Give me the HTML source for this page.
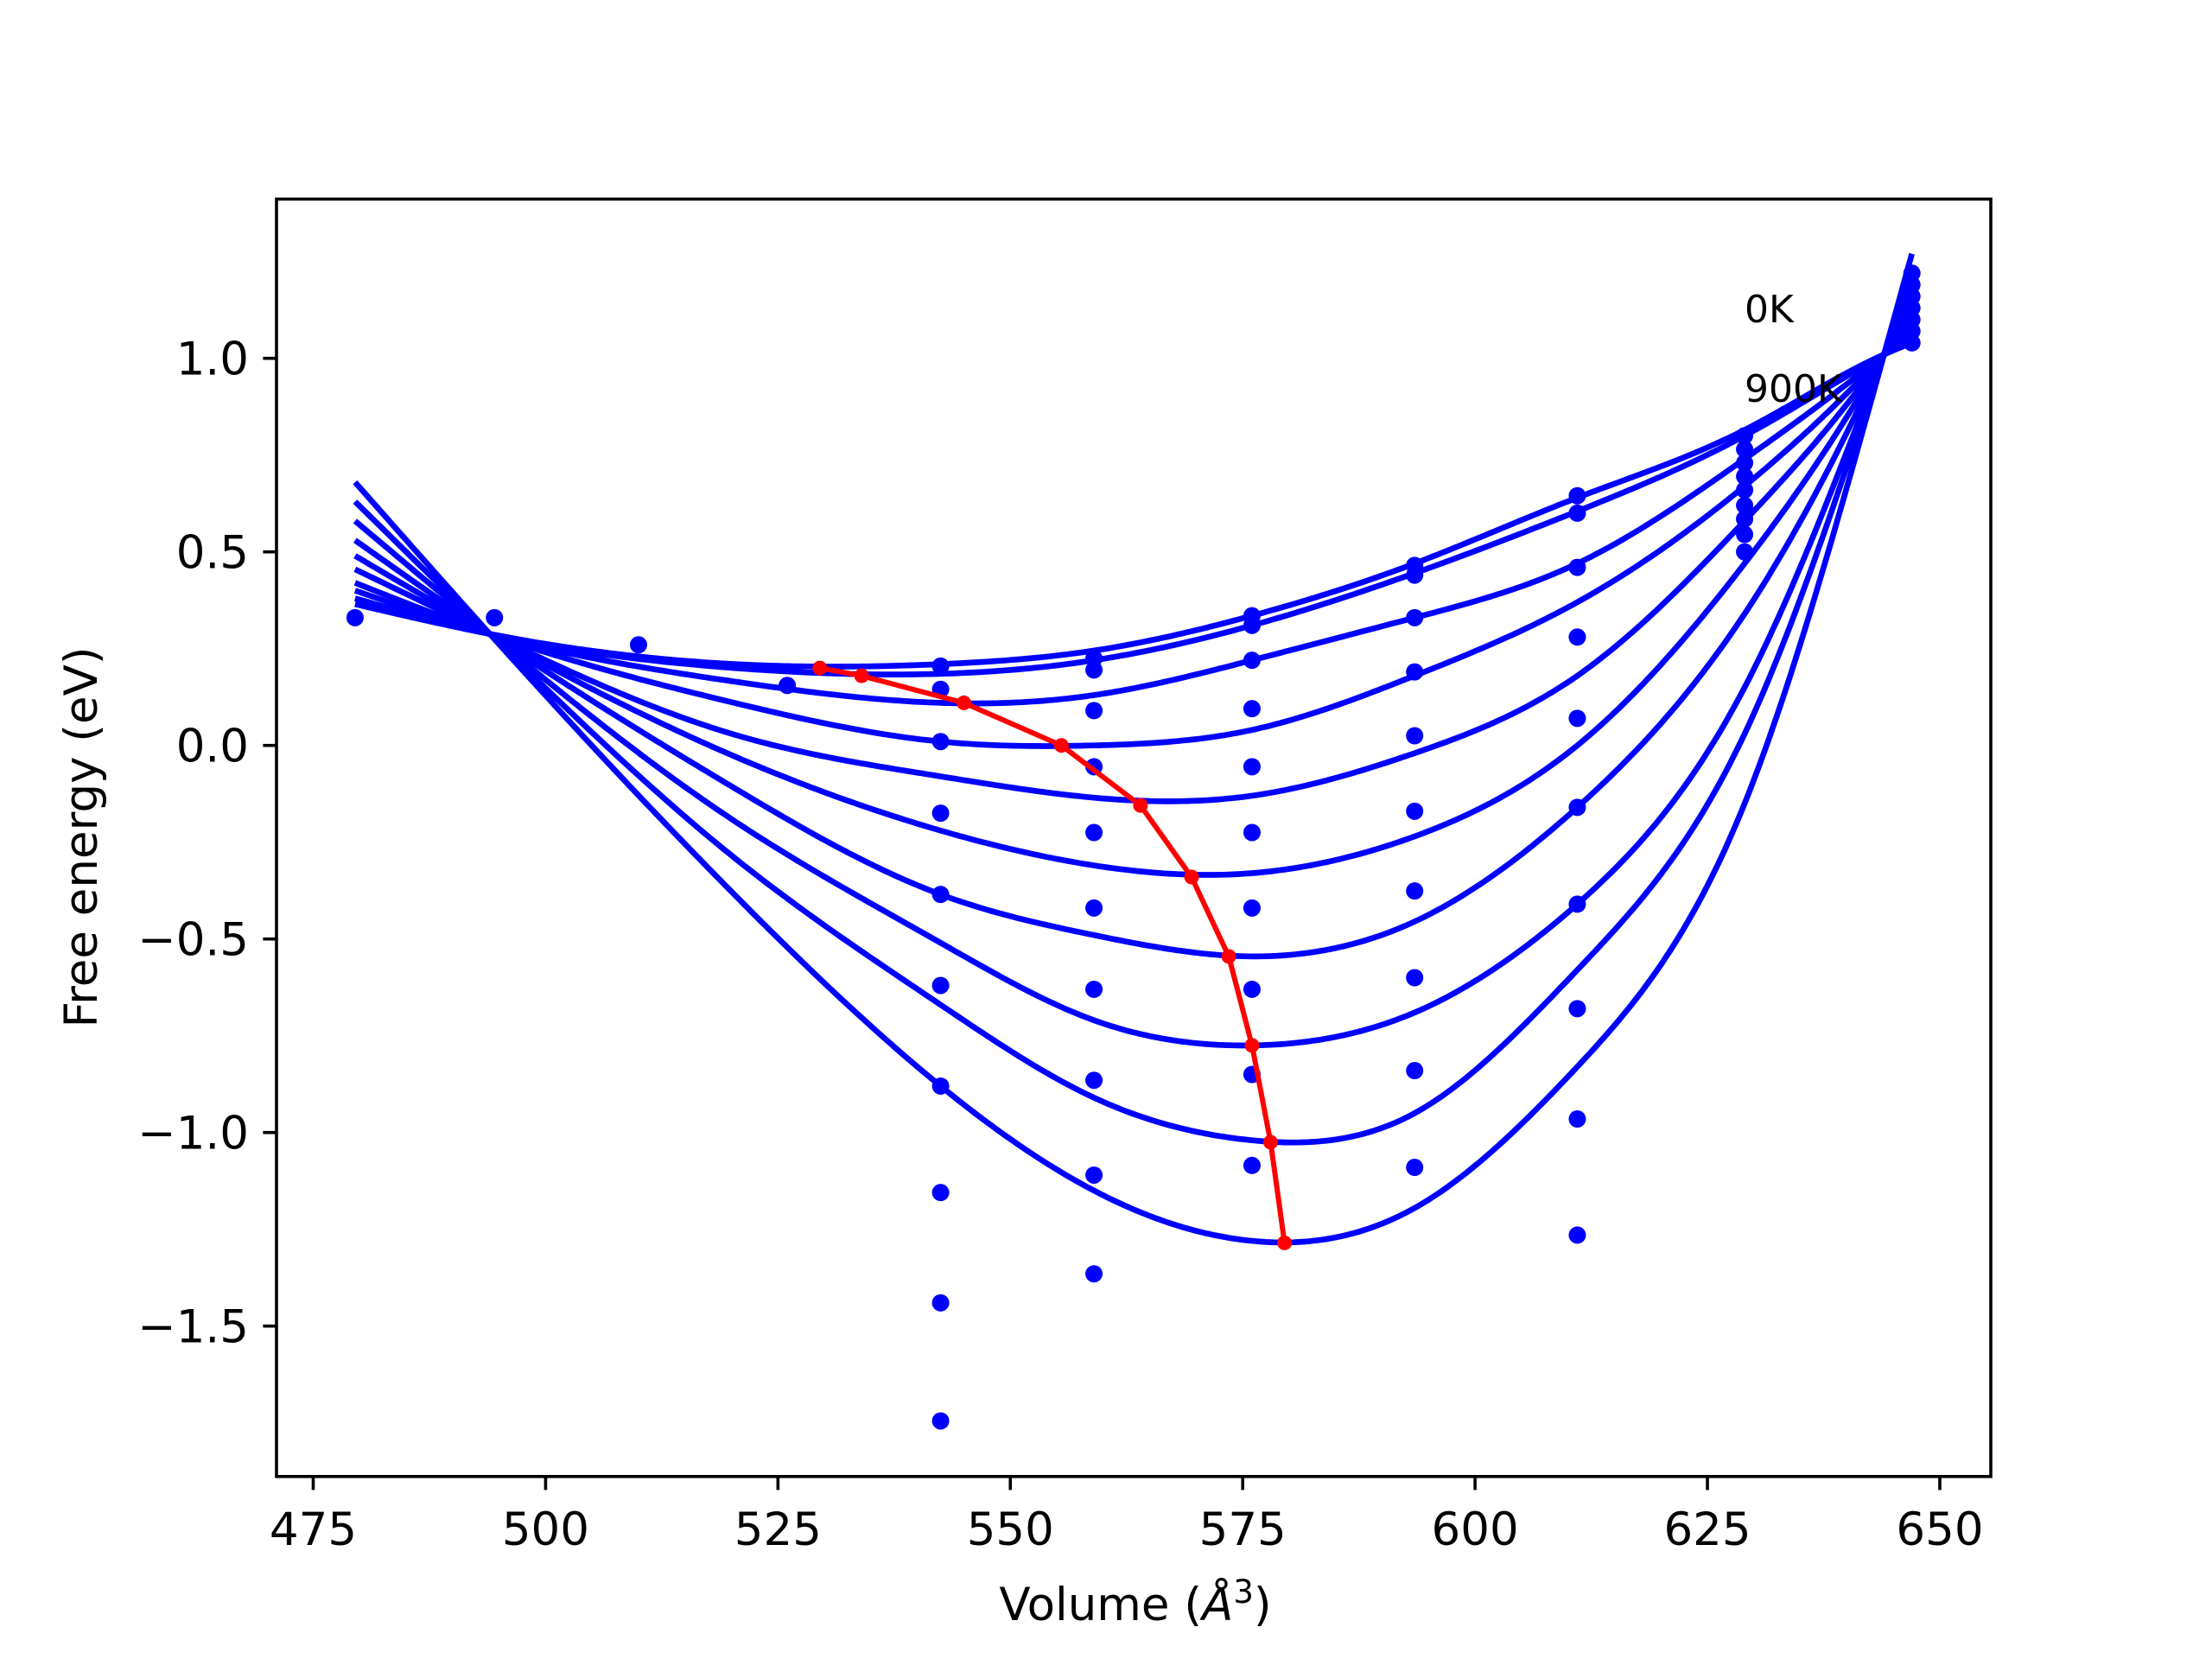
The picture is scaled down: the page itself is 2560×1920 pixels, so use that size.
<!DOCTYPE html>
<html><head><meta charset="utf-8"><style>
html,body{margin:0;padding:0;background:#fff;}
svg{display:block;}
text{font-family:"DejaVu Sans","Liberation Sans",sans-serif;}
</style></head><body>
<svg id="chart" width="2560" height="1920" viewBox="0 0 2560 1920" xmlns="http://www.w3.org/2000/svg">
<rect x="0" y="0" width="2560" height="1920" fill="#fff"/>
<g id="curves"></g>
<g id="dots"></g>
<g id="minline"></g>
<rect x="320" y="230.4" width="1984" height="1478.4" fill="none" stroke="#000" stroke-width="3.6"/>
<g id="xticks"></g>
<g id="yticks"></g>
<text x="1314" y="1875" font-size="53" text-anchor="middle">Volume (<tspan font-style="italic">Å</tspan><tspan font-size="37" dy="-20">3</tspan><tspan dy="20">)</tspan></text>
<text x="112" y="969" font-size="53" text-anchor="middle" transform="rotate(-90 112 969)">Free energy (eV)</text>
<text x="2019" y="373" font-size="44">0K</text>
<text x="2019" y="465" font-size="44">900K</text>
</svg>
<script>
const gridVols = [479.5, 494, 520.3, 542.5, 559, 576, 593.5, 611, 629, 644, 647];
const curve0 = [0.365, 0.288, 0.21, 0.21, 0.245, 0.335, 0.47, 0.64, 0.815, 1.01, 1.04];
const curve1 = [0.38, 0.288, 0.20, 0.185, 0.22, 0.31, 0.445, 0.605, 0.80, 1.01, 1.05];
const curve2 = [0.40, 0.288, 0.165, 0.11, 0.13, 0.22, 0.33, 0.47, 0.74, 1.01, 1.07];
const curve3 = [0.42, 0.288, 0.11, 0.01, 0.0, 0.04, 0.18, 0.37, 0.67, 1.01, 1.09];
const curve4 = [0.455, 0.288, 0.028, -0.08, -0.135, -0.13, -0.02, 0.18, 0.58, 1.01, 1.115];
const curve5 = [0.49, 0.288, -0.028, -0.22, -0.31, -0.33, -0.235, 0.0, 0.47, 1.01, 1.14];
const curve6 = [0.53, 0.288, -0.11, -0.385, -0.49, -0.545, -0.455, -0.16, 0.34, 1.01, 1.17];
const curve7 = [0.58, 0.288, -0.195, -0.51, -0.71, -0.775, -0.69, -0.41, 0.15, 1.01, 1.20];
const curve8 = [0.63, 0.288, -0.29, -0.67, -0.91, -1.02, -0.95, -0.58, 0.03, 1.01, 1.23];
const curve9 = [0.68, 0.288, -0.385, -0.88, -1.15, -1.28, -1.195, -0.83, -0.15, 1.01, 1.27];
const dotVols = [479.5, 494.5, 510, 526,
 542.5,542.5,542.5,542.5,542.5,542.5,542.5,542.5,542.5,542.5,
 559,559,559,559,559,559,559,559,559,559,
 576,576,576,576,576,576,576,576,576,576,
 593.5,593.5,593.5,593.5,593.5,593.5,593.5,593.5,593.5,593.5,
 611,611,611,611,611,611,611,611,611,611,
 629,629,629,629,629,629,629,629,629,
 647,647,647,647,647,647,647];
const dotEnergies = [0.33, 0.33, 0.26, 0.155,
 0.205,0.145,0.01,-0.175,-0.385,-0.62,-0.88,-1.155,-1.44,-1.745,
 0.225,0.195,0.09,-0.055,-0.225,-0.42,-0.63,-0.865,-1.11,-1.365,
 0.335,0.31,0.22,0.095,-0.055,-0.225,-0.42,-0.63,-0.85,-1.085,
 0.465,0.44,0.33,0.19,0.025,-0.17,-0.376,-0.60,-0.84,-1.09,
 0.645,0.60,0.46,0.28,0.07,-0.16,-0.41,-0.68,-0.965,-1.265,
 0.80,0.765,0.73,0.695,0.66,0.62,0.585,0.545,0.50,
 1.04,1.07,1.10,1.13,1.16,1.19,1.22];
const minVols = [529.5, 534, 545, 555.5, 564, 569.5, 573.5, 576, 578, 579.5];
const minEnergies = [0.20, 0.18, 0.11, 0.0, -0.155, -0.34, -0.545, -0.775, -1.025, -1.285];
const xTickVals = [475, 500, 525, 550, 575, 600, 625, 650];
const xTickLabels = ["475", "500", "525", "550", "575", "600", "625", "650"];
const yTickVals = [1.0, 0.5, 0.0, -0.5, -1.0, -1.5];
const yTickLabels = ["1.0", "0.5", "0.0", "\u22120.5", "\u22121.0", "\u22121.5"];

const NS = "http://www.w3.org/2000/svg";
function xs(v){ return 362.5 + (v - 475) * 10.757; }
function ys(e){ return 414.7 + (1 - e) * 448; }
function mk(tag, attrs, parent){
  const el = document.createElementNS(NS, tag);
  for (const k in attrs) el.setAttribute(k, attrs[k]);
  parent.appendChild(el);
  return el;
}
function splinePath(xv, yv){
  const n = xv.length, h = [], al = [], l = [1], mu = [0], z = [0], c = new Array(n).fill(0), b = [], d = [];
  for (let i = 0; i < n-1; i++) h.push(xv[i+1]-xv[i]);
  for (let i = 1; i < n-1; i++) al[i] = 3/h[i]*(yv[i+1]-yv[i]) - 3/h[i-1]*(yv[i]-yv[i-1]);
  for (let i = 1; i < n-1; i++){
    l[i] = 2*(xv[i+1]-xv[i-1]) - h[i-1]*mu[i-1];
    mu[i] = h[i]/l[i];
    z[i] = (al[i] - h[i-1]*z[i-1])/l[i];
  }
  for (let j = n-2; j >= 0; j--){
    c[j] = (j === 0 ? 0 : z[j] - mu[j]*c[j+1]);
    b[j] = (yv[j+1]-yv[j])/h[j] - h[j]*(c[j+1] + 2*c[j])/3;
    d[j] = (c[j+1]-c[j])/(3*h[j]);
  }
  let dstr = "";
  for (let j = 0; j < n-1; j++){
    const steps = Math.max(4, Math.ceil(h[j]*2));
    for (let s = (j === 0 ? 0 : 1); s <= steps; s++){
      const t = h[j]*s/steps;
      const y = yv[j] + b[j]*t + c[j]*t*t + d[j]*t*t*t;
      dstr += (dstr ? " L" : "M") + xs(xv[j]+t).toFixed(1) + " " + ys(y).toFixed(1);
    }
  }
  return dstr;
}
const clip = mk("clipPath", {id:"plotclip"}, document.getElementById("chart"));
mk("rect", {x:320, y:230.4, width:1984, height:1478.4}, clip);

const curveG = document.getElementById("curves");
curveG.setAttribute("clip-path", "url(#plotclip)");
const curves = [curve0, curve1, curve2, curve3, curve4, curve5, curve6, curve7, curve8, curve9];
curves.forEach((c, i) => {
  const p = mk("path", {d: splinePath(gridVols, c), fill:"none", stroke:"#0000ff", "stroke-width":6.7, "stroke-linejoin":"round"}, curveG);
  
  
});

const dotG = document.getElementById("dots");
dotVols.forEach((v, i) => {
  const c = mk("circle", {cx: xs(v), cy: ys(dotEnergies[i]), r: 10, fill:"#0000ff"}, dotG);
  
  
});

const minG = document.getElementById("minline");
const pts = minVols.map((v, i) => xs(v).toFixed(1) + "," + ys(minEnergies[i]).toFixed(1)).join(" ");
const pl = mk("polyline", {points: pts, fill:"none", stroke:"#ff0000", "stroke-width":6, "stroke-linejoin":"round"}, minG);


minVols.forEach((v, i) => {
  const c = mk("circle", {cx: xs(v), cy: ys(minEnergies[i]), r: 8.5, fill:"#ff0000"}, minG);
  
  
});

const xg = document.getElementById("xticks");
xTickVals.forEach((v, i) => {
  const t = mk("line", {x1: xs(v), x2: xs(v), y1: 1708.8, y2: 1724.4, stroke:"#000", "stroke-width":3.6}, xg);
  
  
  const l = mk("text", {x: xs(v), y: 1788, "font-size":53, "text-anchor":"middle"}, xg);
  l.textContent = xTickLabels[i];
  
  
});
const yg = document.getElementById("yticks");
yTickVals.forEach((v, i) => {
  const t = mk("line", {x1: 304.4, x2: 320, y1: ys(v), y2: ys(v), stroke:"#000", "stroke-width":3.6}, yg);
  
  
  const l = mk("text", {x: 288, y: ys(v) + 19, "font-size":53, "text-anchor":"end"}, yg);
  l.textContent = yTickLabels[i];
  
  
});
</script>
</body></html>
